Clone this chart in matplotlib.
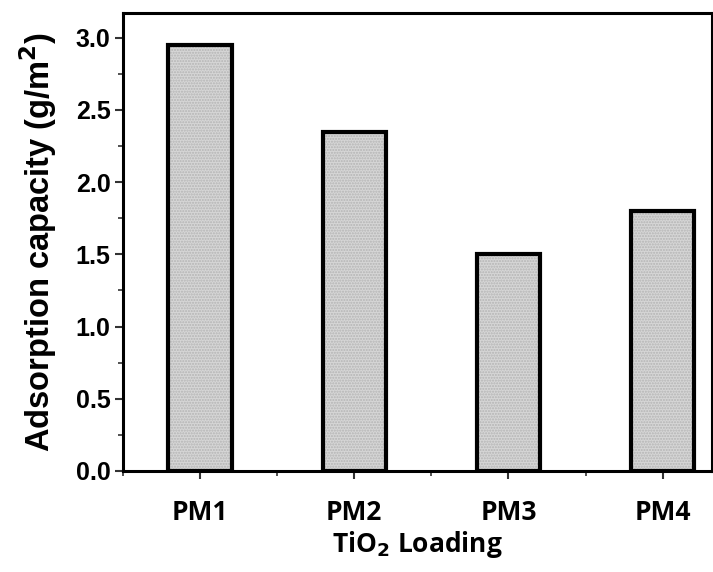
import matplotlib
matplotlib.use("Agg")
import matplotlib.pyplot as plt
from matplotlib.ticker import MultipleLocator

categories = ["PM1", "PM2", "PM3", "PM4"]
values = [2.95, 2.35, 1.50, 1.80]
yticks = [0.0, 0.5, 1.0, 1.5, 2.0, 2.5, 3.0]

fig = plt.figure(figsize=(7.13, 5.72), dpi=100)
ax = fig.add_axes([0.1725, 0.1766, 0.826, 0.8004])

x = list(range(len(categories)))
ax.bar(x, values, width=0.41, color="#d6d6d6", edgecolor="#b4b4b4", hatch="......", linewidth=0, zorder=2)
ax.bar(x, values, width=0.41, facecolor="none", edgecolor="black", linewidth=3.0, zorder=3)

ax.set_xlim(-0.5, 3.32)
ax.set_ylim(0, 3.17)
ax.set_xticks(x)
ax.set_xticklabels(categories, fontfamily="Open Sans", fontweight="bold", fontsize=19)
ax.xaxis.set_minor_locator(MultipleLocator(0.5))
ax.set_yticks(yticks)
ax.set_yticklabels([f"{v:.1f}" for v in yticks], fontfamily="Liberation Sans", fontweight="bold", fontsize=18)
ax.yaxis.set_minor_locator(MultipleLocator(0.25))
ax.tick_params(axis="both", which="major", direction="out", length=6, width=1.5, color="#333333")
ax.tick_params(axis="both", which="minor", direction="out", length=3.5, width=1.2, color="#333333")
ax.tick_params(axis="x", which="major", pad=14)
ax.tick_params(axis="y", which="major", pad=3)
for s in ax.spines.values():
    s.set_linewidth(2.2)

ax.set_ylabel("Adsorption capacity (g/m$^\\mathbf{2}$)", fontfamily="Liberation Sans", fontweight="bold", fontsize=23.5, labelpad=12)
ax.set_xlabel("TiO$_\\mathbf{2}$ Loading", fontfamily="Open Sans", fontweight="bold", fontsize=19, labelpad=2)

fig.savefig("out.png", dpi=100)
